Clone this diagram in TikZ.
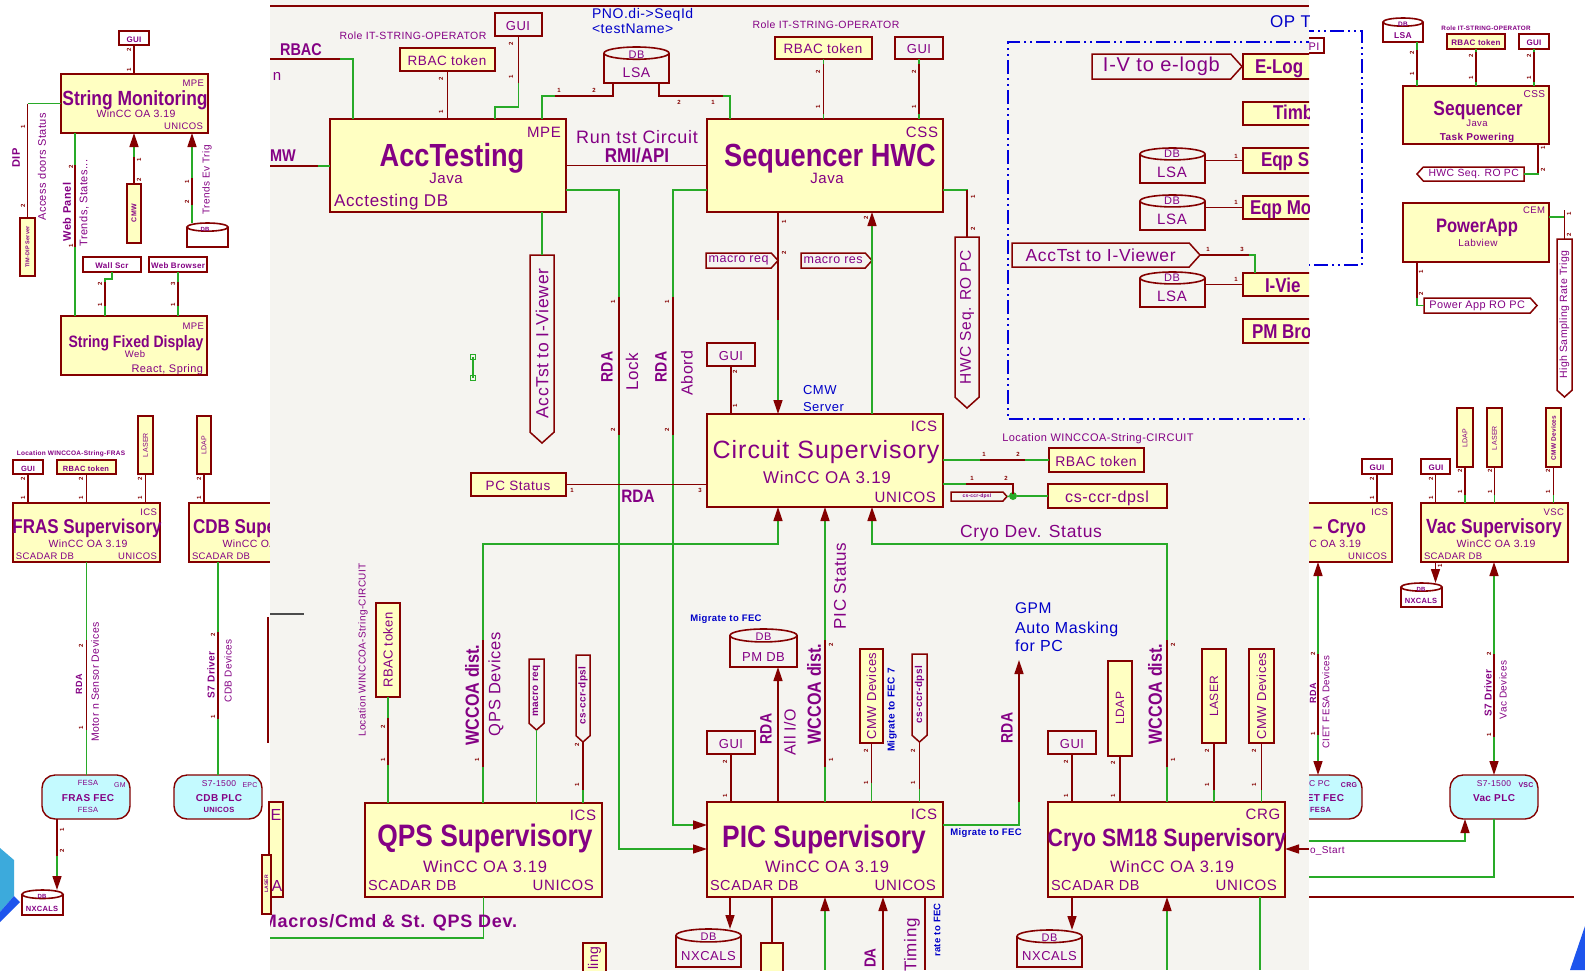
\documentclass[tikz,border=0pt]{standalone}
\usepackage{fontspec}
\setmainfont{Liberation Sans}[LetterSpace=4]
\newfontfamily\tfont{Liberation Sans}[FakeStretch=0.85]
\usetikzlibrary{arrows.meta}
\definecolor{kred}{RGB}{132,0,0}
\definecolor{kyel}{RGB}{255,255,194}
\definecolor{kgrn}{RGB}{40,170,40}
\definecolor{kpur}{RGB}{132,0,132}
\definecolor{kblu}{RGB}{0,0,200}
\definecolor{kbg}{RGB}{245,244,240}
\definecolor{kcyan}{RGB}{196,250,255}
\definecolor{kdash}{RGB}{0,0,220}
\definecolor{kswo}{RGB}{60,170,220}
\newcommand\kfs[1]{\fontsize{#1}{#1}\selectfont}
\newcounter{kt}
\newcommand\KT[5]{\stepcounter{kt}\node[ktx,#5] (t\arabic{kt}) at (#1,#2) {\kfs{#4}#3};}
\newcommand\KP[4]{\stepcounter{kt}\node[kpin,rotate=#4] (t\arabic{kt}) at (#1,#2) {#3};}
\newcommand\KB[6]{\node[#6,minimum width=#4pt,minimum height=#5pt,anchor=north west] (#1) at (#2,#3) {};}
\newcommand\KF[3]{\node[kfec,minimum width=88pt,minimum height=44pt,anchor=north west] (#1) at (#2,#3) {};}
\newcommand\KDB[5]{%
 \node[inner sep=0pt,outer sep=0pt,minimum width=#4pt,minimum height=#5pt,anchor=north west] (#1) at (#2,#3) {};
 \draw[kred,line width=1.6pt] (#1.north west) ++(0,{0.17*#5}) -- (#1.south west) -- (#1.south east) -- ++(0,{-0.83*#5});
 \draw[kred,line width=1.6pt] (#1.north) ++(0,{0.17*#5}) ellipse [x radius={#4*0.5pt}, y radius={#5*0.17pt}];}
\newcommand\KtagR[8]{%
 \draw[ktag] (#2,#3) -- ({#4-0.45*(#5-#3)},#3) -- (#4,{(#3+#5)/2}) -- ({#4-0.45*(#5-#3)},#5) -- (#2,#5) -- cycle;
 \coordinate (#1-p) at (#4,{(#3+#5)/2});
 \coordinate (#1-b) at (#2,{(#3+#5)/2});
 \node[ktx,#8] (#1) at ({(#2+#4-0.45*(#5-#3))/2},{(#3+#5)/2}) {\kfs{#7}#6};}
\newcommand\KtagL[8]{%
 \draw[ktag] (#4,#3) -- ({#2+0.45*(#5-#3)},#3) -- (#2,{(#3+#5)/2}) -- ({#2+0.45*(#5-#3)},#5) -- (#4,#5) -- cycle;
 \coordinate (#1-p) at (#2,{(#3+#5)/2});
 \coordinate (#1-b) at (#4,{(#3+#5)/2});
 \node[ktx,#8] (#1) at ({(#2+0.45*(#5-#3)+#4)/2},{(#3+#5)/2}) {\kfs{#7}#6};}
\newcommand\KtagD[8]{%
 \draw[ktag] (#2,#3) -- (#4,#3) -- (#4,{#5-0.45*(#4-#2)}) -- ({(#2+#4)/2},#5) -- (#2,{#5-0.45*(#4-#2)}) -- cycle;
 \coordinate (#1-t) at ({(#2+#4)/2},#3);
 \coordinate (#1-p) at ({(#2+#4)/2},#5);
 \node[ktx,rotate=90,#8] (#1) at ({(#2+#4)/2},{(#3+#5-0.45*(#4-#2))/2}) {\kfs{#7}#6};}
\tikzset{
 ktx/.style={text=kpur, inner sep=0pt, outer sep=0pt},
 kbold/.style={font=\bfseries},
 ktitle/.style={font=\tfont\bfseries},
 kblue/.style={text=kblu},
 kbx/.style={draw=kred, line width=1.6pt, fill=kyel, inner sep=0pt, outer sep=0pt},
 kwx/.style={draw=kred, line width=1.6pt, inner sep=0pt, outer sep=0pt},
 kfec/.style={draw=kred, line width=1.4pt, fill=kcyan, rounded corners=13pt, inner sep=0pt, outer sep=0pt},
 gw/.style={draw=kgrn, line width=1.4pt},
 rw/.style={draw=kred, line width=1.4pt},
 ktag/.style={draw=kred, line width=1.5pt},
 kpin/.style={text=kred, inner sep=0pt, font=\bfseries\kfs{6}},
 kar/.style={-{Triangle[length=14pt,width=9pt,color=kred]}},
 kra/.style={{Triangle[length=14pt,width=9pt,color=kred]}-},
 krar/.style={{Triangle[length=14pt,width=9pt,color=kred]}-{Triangle[length=14pt,width=9pt,color=kred]}},
 kdd/.style={draw=kdash, line width=1.4pt, dash pattern=on 14pt off 4pt on 2pt off 4pt on 2pt off 4pt},
}
\begin{document}
\begin{tikzpicture}[x=1pt,y=-1pt]
\useasboundingbox (0,0) rectangle (1585,970);
\fill[white] (0,0) rectangle (1585,970);

%================ LEFT AREA ================
\KB{smgui}{119}{31}{30}{14}{kwx}
\KT{134}{42}{GUI}{8}{kbold,anchor=base}
\KB{sm}{61}{74}{147}{59}{kbx}
\KT{204}{86}{MPE}{9.5}{anchor=base east}
\KT{135}{105}{String Monitoring}{20.5}{ktitle,anchor=base}
\KT{136}{117}{WinCC OA 3.19}{10.5}{anchor=base}
\KT{203}{129}{UNICOS}{9.5}{anchor=base east}
\draw[rw] (smgui.south) -- (smgui.south |- sm.north);
\KP{129}{50}{2}{90}\KP{129}{70}{1}{90}

\KB{tim}{20}{218}{15}{58}{kbx}
\KT{27.5}{247}{TIM-DIP Server}{5.5}{kbold,rotate=90}
\draw[gw] (sm.west) -- (sm.west -| tim.north);
\draw[rw] (sm.west -| tim.north) -- (tim.north);
\KP{23}{127}{1}{90}\KP{23}{206}{2}{90}
\KT{16}{158}{DIP}{11}{kbold,rotate=90}
\KT{42}{167}{Access doors Status}{11}{rotate=90}

\KB{sfd}{61}{316}{146}{59}{kbx}
\draw[gw] ([xshift=14pt]sm.south west) -- ([xshift=14pt]sm.south west |- sfd.north);
\draw[rw] ([xshift=14pt]sm.south west) ++(0,32) -- ++(0,82);
\KP{71}{167}{2}{90}\KP{71}{246}{1}{90}
\KT{67}{212}{Web Panel}{11}{kbold,rotate=90}
\KT{84}{203}{Trends, States...}{11}{rotate=90}

\KB{cmw}{127}{184}{14}{59}{kbx}
\KT{134}{213}{CMW}{7}{kbold,rotate=90}
\draw[gw,kar] (cmw.north) -- (cmw.north |- sm.south);
\draw[rw] (cmw.north) -- ++(0,-27);
\KP{139}{160}{1}{90}\KP{139}{180}{2}{90}

\KDB{smdb}{187}{223}{41}{24}
\KT{205}{231}{DB}{6}{kbold,anchor=base}
\draw[gw,kar] ([xshift=5pt]smdb.north west) -- ([xshift=5pt]smdb.north west |- sm.south);
\draw[rw] ([xshift=5pt]smdb.north west) ++(0,-18) -- ++(0,-27);
\KP{187}{182}{1}{90}\KP{187}{202}{2}{90}
\KT{207}{180}{Trends Ev Trig}{10}{rotate=90}

\KB{wall}{83}{257}{58}{15}{kwx}
\KT{112}{268}{Wall Scr}{8}{kbold,anchor=base}
\KB{webb}{149}{257}{58}{15}{kwx}
\KT{178}{268}{Web Browser}{8}{kbold,anchor=base}
\draw[gw] (wall.south) -- ++(0,7) -| ([xshift=44pt]sfd.north west);
\draw[rw] ([xshift=44pt]sfd.north west) ++(0,-34) -- ++(0,24);
\draw[gw] (webb.south) -- (webb.south |- sfd.north);
\draw[rw] (webb.south) ++(0,10) -- ++(0,24);
\KP{100}{284}{2}{90}\KP{100}{305}{1}{90}\KP{173}{284}{3}{90}\KP{173}{305}{1}{90}

\KT{204}{329}{MPE}{9.5}{anchor=base east}
\KT{136}{347}{String Fixed Display}{16.5}{ktitle,anchor=base}
\KT{135}{357}{Web}{9.5}{anchor=base}
\KT{203}{372}{React, Spring}{11}{anchor=base east}

\KT{71}{455}{Location WINCCOA-String-FRAS}{6.5}{kbold,anchor=base}
\KB{fgui}{13}{460}{30}{14}{kwx}
\KT{28}{471}{GUI}{7.5}{kbold,anchor=base}
\KB{frbac}{57}{460}{59}{14}{kbx}
\KT{86}{471}{RBAC token}{7.5}{kbold,anchor=base}
\KB{flaser}{138}{416}{15}{58}{kbx}
\KT{145.5}{445}{LASER}{7}{rotate=90}
\KB{cldap}{197}{416}{14}{58}{kbx}
\KT{204}{445}{LDAP}{7}{rotate=90}
\KB{fras}{13}{503}{147}{59}{kbx}
\KT{157}{515}{ICS}{9.5}{anchor=base east}
\KT{87}{533}{FRAS Supervisory}{20}{ktitle,anchor=base}
\KT{88}{547}{WinCC OA 3.19}{10.5}{anchor=base}
\KT{16}{559}{SCADAR DB}{9.5}{anchor=base west}
\KT{157}{559}{UNICOS}{9.5}{anchor=base east}
\draw[rw] (fgui.south) -- (fgui.south |- fras.north);
\draw[rw] (frbac.south) -- (frbac.south |- fras.north);
\draw[rw] (flaser.south) -- (flaser.south |- fras.north);
\KP{23}{479}{2}{90}\KP{23}{498}{1}{90}\KP{81}{479}{2}{90}\KP{81}{498}{1}{90}\KP{140}{479}{2}{90}\KP{140}{498}{1}{90}
\KB{cdb}{189}{503}{147}{59}{kbx}
\KT{193}{533}{CDB Supervisory}{20}{ktitle,anchor=base west}
\KT{262}{547}{WinCC OA 3.19}{10.5}{anchor=base}
\KT{192}{559}{SCADAR DB}{9.5}{anchor=base west}
\draw[rw] (cldap.south) -- (cldap.south |- cdb.north);
\KP{199}{479}{2}{90}\KP{199}{498}{1}{90}

\KF{ffec}{42}{775}
\draw[gw] (fras.south) -- (fras.south |- ffec.north);
\draw[rw] (fras.south) ++(0,78) -- ++(0,90);
\KP{81}{646}{2}{90}\KP{81}{728}{1}{90}
\KT{79}{684}{RDA}{9}{kbold,rotate=90}
\KT{95}{682}{Motor n Sensor Devices}{10.5}{rotate=90}
\KT{88}{785}{FESA}{7.5}{anchor=base}
\KT{120}{787}{GM}{7}{anchor=base}
\KT{88}{801}{FRAS FEC}{10}{kbold,anchor=base}
\KT{88}{812}{FESA}{7.5}{anchor=base}
\KF{cplc}{174}{775}
\draw[gw] (cdb.south -| cplc.north) -- (cplc.north);
\draw[rw] (cplc.north) ++(0,-143) -- ++(0,87);
\KP{213}{635}{2}{90}\KP{213}{717}{1}{90}
\KT{211}{675}{S7 Driver}{10}{kbold,rotate=90}
\KT{228}{671}{CDB Devices}{10}{rotate=90}
\KT{219}{786}{S7-1500}{8.5}{anchor=base}
\KT{250}{787}{EPC}{7}{anchor=base}
\KT{219}{801}{CDB PLC}{10}{kbold,anchor=base}
\KT{219}{812}{UNICOS}{7.5}{kbold,anchor=base}
\KDB{fnx}{22}{890}{41}{25}
\KT{42}{898}{DB}{6}{kbold,anchor=base}
\KT{42}{911}{NXCALS}{7.5}{kbold,anchor=base}
\draw[gw,kar] ([xshift=15pt]ffec.south west) -- ([xshift=15pt]ffec.south west |- fnx.north);
\draw[rw] ([xshift=15pt]ffec.south west) -- ++(0,37);
\KP{62}{830}{1}{90}\KP{62}{851}{2}{90}
\fill[kswo] (0,848) -- (14,860) -- (14,896) -- (0,912) -- cycle;
\fill[kswo!50!blue] (0,912) -- (14,896) -- (20,902) -- (0,922) -- cycle;

%================ RIGHT AREA ================
\draw[kdd] (1300,31) -- (1362,31) -- (1362,265) -- (1300,265);
\KB{pibox}{1290}{38}{34}{15}{kwx}
\KT{1314}{50}{PI}{11}{anchor=base}
\KDB{rlsa}{1383}{18}{40}{24}
\KT{1403}{26}{DB}{6.5}{kbold,anchor=base}
\KT{1403}{38}{LSA}{8.5}{kbold,anchor=base}
\KT{1486}{30}{Role IT-STRING-OPERATOR}{6.3}{kbold,anchor=base}
\KB{rrbac}{1447}{34}{58}{15}{kbx}
\KT{1476}{45}{RBAC token}{8}{kbold,anchor=base}
\KB{rgui}{1519}{34}{30}{15}{kwx}
\KT{1534}{45}{GUI}{8}{kbold,anchor=base}
\KB{rseq}{1403}{86}{146}{58}{kbx}
\KT{1545}{97}{CSS}{10}{anchor=base east}
\KT{1478}{115}{Sequencer}{20.5}{ktitle,anchor=base}
\KT{1477}{126}{Java}{9.5}{anchor=base}
\KT{1477}{140}{Task Powering}{10}{kbold,anchor=base}
\draw[gw] ([xshift=34pt]rlsa.south west) -- ([xshift=34pt]rlsa.south west |- rseq.north);
\draw[rw] ([xshift=34pt]rlsa.south west) ++(0,8) -- ++(0,30);
\draw[gw] (rrbac.south) -- (rrbac.south |- rseq.north);
\draw[rw] (rrbac.south) ++(0,3) -- ++(0,30);
\draw[gw] (rgui.south) -- (rgui.south |- rseq.north);
\draw[rw] (rgui.south) ++(0,3) -- ++(0,30);
\KP{1412}{53}{2}{90}\KP{1412}{74}{1}{90}\KP{1471}{56}{2}{90}\KP{1471}{78}{1}{90}\KP{1529}{56}{2}{90}\KP{1529}{78}{1}{90}
\KtagL{hwcr}{1417}{167}{1524}{181}{HWC Seq. RO PC}{10.4}{}
\draw[gw] ([xshift=135pt]rseq.south west) |- (hwcr-b);
\draw[rw] ([xshift=135pt]rseq.south west) -- ++(0,29);
\KP{1543}{148}{1}{90}\KP{1543}{170}{2}{90}
\KB{papp}{1403}{203}{146}{59}{kbx}
\KT{1545}{213}{CEM}{9.5}{anchor=base east}
\KT{1477}{232}{PowerApp}{19.5}{ktitle,anchor=base}
\KT{1478}{246}{Labview}{10}{anchor=base}
\KtagD{hsr}{1557}{239}{1572}{397}{High Sampling Rate Trigg}{10.5}{}
\draw[gw] ([yshift=-14pt]papp.north east) -| (hsr-t);
\draw[rw] (hsr-t) -- ++(0,-29);
\KP{1569}{214}{1}{90}\KP{1569}{235}{2}{90}
\KtagR{pwr}{1424}{298}{1537}{313}{Power App RO PC}{10.9}{}
\draw[gw] ([xshift=14pt]papp.south west) |- (pwr-b);
\draw[rw] ([xshift=14pt]papp.south west) -- ++(0,36);
\KP{1421}{272}{1}{90}\KP{1421}{294}{2}{90}

\KB{cgui}{1362}{459}{30}{15}{kwx}
\KT{1377}{470}{GUI}{8}{kbold,anchor=base}
\KB{vgui}{1421}{459}{29}{15}{kwx}
\KT{1436}{470}{GUI}{8}{kbold,anchor=base}
\KB{vldap}{1457}{408}{16}{59}{kbx}
\KT{1465}{438}{LDAP}{7}{rotate=90}
\KB{vlaser}{1487}{408}{15}{59}{kbx}
\KT{1494.5}{438}{LASER}{7}{rotate=90}
\KB{vcmw}{1546}{408}{15}{59}{kbx}
\KT{1553.5}{438}{CMW Devices}{6.5}{kbold,rotate=90}
\KB{cryo}{1245}{503}{147}{59}{kbx}
\KT{1388}{515}{ICS}{9.5}{anchor=base east}
\KT{1366}{533}{– Cryo}{20}{ktitle,anchor=base east}
\KT{1361}{547}{WinCC OA 3.19}{10.5}{anchor=base east}
\KT{1387}{559}{UNICOS}{9.5}{anchor=base east}
\KB{vac}{1421}{503}{147}{59}{kbx}
\KT{1564}{515}{VSC}{9.5}{anchor=base east}
\KT{1494}{533}{Vac Supervisory}{20.5}{ktitle,anchor=base}
\KT{1496}{547}{WinCC OA 3.19}{10.5}{anchor=base}
\KT{1424}{559}{SCADAR DB}{9.5}{anchor=base west}
\draw[rw] (cgui.south) -- (cgui.south |- cryo.north);
\draw[rw] (vgui.south) -- (vgui.south |- vac.north);
\draw[gw] (vldap.south) -- (vldap.south |- vac.north);
\draw[rw] (vldap.south) -- ++(0,28);
\draw[gw] (vlaser.south) -- (vlaser.south |- vac.north);
\draw[rw] (vlaser.south) -- ++(0,28);
\draw[gw] (vcmw.south) -- (vcmw.south |- vac.north);
\draw[rw] (vcmw.south) -- ++(0,28);
\KP{1372}{479}{2}{90}\KP{1372}{498}{1}{90}\KP{1431}{479}{2}{90}\KP{1431}{498}{1}{90}
\KP{1460}{471}{2}{90}\KP{1460}{492}{1}{90}\KP{1490}{471}{2}{90}\KP{1490}{492}{1}{90}\KP{1548}{471}{2}{90}\KP{1548}{492}{1}{90}
\KDB{vnx}{1401}{583}{41}{24}
\KT{1421}{591}{DB}{6}{kbold,anchor=base}
\KT{1421}{603}{NXCALS}{7.5}{kbold,anchor=base}
\draw[rw,kar] (vgui.south |- vac.south) -- (vgui.south |- vnx.north);
\KP{1440}{566}{1}{90}

\KF{cfec}{1274}{775}
\draw[gw,krar] (cryo.south -| cfec.north) -- (cfec.north);
\draw[rw] (cfec.north) ++(0,-121) -- ++(0,81);
\KP{1313}{654}{2}{90}\KP{1313}{734}{1}{90}
\KT{1313}{693}{RDA}{9}{kbold,rotate=90}
\KT{1326}{702}{CIET FESA Devices}{9.7}{rotate=90}
\KT{1330}{786}{C PC}{8.5}{anchor=base east}
\KT{1349}{787}{CRG}{7}{kbold,anchor=base}
\KT{1344}{801}{CIET FEC}{10}{kbold,anchor=base east}
\KT{1331}{812}{FESA}{7.5}{kbold,anchor=base east}
\KF{vplc}{1450}{775}
\draw[gw,krar] (vac.south -| vplc.north) -- (vplc.north);
\draw[rw] (vplc.north) ++(0,-121) -- ++(0,83);
\KP{1489}{654}{2}{90}\KP{1489}{735}{1}{90}
\KT{1488}{693}{S7 Driver}{10}{kbold,rotate=90}
\KT{1503}{690}{Vac Devices}{10}{rotate=90}
\KT{1494}{786}{S7-1500}{8.5}{anchor=base}
\KT{1526}{787}{VSC}{7}{kbold,anchor=base}
\KT{1494}{801}{Vac PLC}{10}{kbold,anchor=base}
\coordinate (rg1) at (1300,841);
\coordinate (rg2) at (1300,877);
\draw[gw,kar] (rg1) -| ([xshift=-29pt]vplc.south);
\draw[gw] (rg2) -| (vplc.south);
\coordinate (rr1) at (1300,897);
\coordinate (rr2) at (1574,897);
\draw[rw] (rr1) -- (rr2);
\KT{1310}{853}{o\_Start}{10}{anchor=base west}
\fill[kswo!50!blue] (1585,926) -- (1585,970) -- (1570,970) -- cycle;

%================ CENTRAL PANEL ================
\begin{scope}
\clip (270,0) rectangle (1309,970);
\fill[kbg] (270,0) rectangle (1309,970);
\draw[kred,line width=1.6pt] (270,6) -- (1309,6);

\KB{acc}{330}{119}{236}{93}{kbx}
\KB{seq}{707}{119}{236}{93}{kbx}
\KB{circ}{707}{414}{236}{93}{kbx}
\KB{qps}{365}{803}{237}{94}{kbx}
\KB{pic}{707}{802}{236}{95}{kbx}
\KB{cs18}{1048}{802}{237}{95}{kbx}

\KT{301}{55}{RBAC}{17}{ktitle,anchor=base}
\KT{277}{80}{n}{15}{anchor=base}
\KT{283}{161}{MW}{17}{ktitle,anchor=base}

\KT{544}{137}{MPE}{15}{anchor=base}
\KT{452}{166}{AccTesting}{32}{ktitle,anchor=base}
\KT{446}{183}{Java}{15}{anchor=base}
\KT{334}{206}{Acctesting DB}{17}{anchor=base west}
\coordinate (lrb) at (270,59);
\draw[gw] (lrb) -| ([xshift=23pt]acc.north west);
\draw[rw] (lrb) -- ++(70,0);
\coordinate (lmw) at (270,166);
\draw[gw] (lmw) -- (lmw -| acc.west);
\draw[rw] (lmw) -- ++(48,0);

\KT{413}{39}{Role IT-STRING-OPERATOR}{10.5}{anchor=base}
\KB{arbac}{400}{48}{95}{23}{kbx}
\KT{447}{65}{RBAC token}{13.5}{anchor=base}
\KB{agui}{495}{13}{47}{23}{kwx}
\KT{518}{30}{GUI}{13}{anchor=base}
\draw[rw] (arbac.south) -- (arbac.south |- acc.north);
\draw[gw] (agui.south) -- ++(0,71) -| ([xshift=165pt]acc.north west);
\draw[rw] (agui.south) -- ++(0,47);
\KP{441}{79}{2}{90}\KP{441}{112}{1}{90}\KP{511}{44}{2}{90}\KP{511}{77}{1}{90}

\KDB{alsa}{604}{47}{65}{36}
\KT{636.5}{58}{DB}{11}{anchor=base}
\KT{636.5}{77}{LSA}{14}{anchor=base}
\draw[gw] ([xshift=9pt]alsa.south west) -- ++(0,13) -| ([xshift=212pt]acc.north west);
\draw[rw] ([xshift=9pt]alsa.south west) -- ++(0,13) -- ++(-58,0);
\draw[gw] ([xshift=-10pt]alsa.south east) -- ++(0,13) -| ([xshift=23pt]seq.north west);
\draw[rw] ([xshift=-10pt]alsa.south east) -- ++(0,13) -- ++(64,0);
\KP{559}{90}{1}{0}\KP{594}{90}{2}{0}\KP{679}{102}{2}{0}\KP{713}{102}{1}{0}
\KT{592}{18.5}{PNO.di->SeqId}{14}{kblue,anchor=base west}
\KT{592}{33}{<testName>}{14}{kblue,anchor=base west}
\KT{637}{143}{Run tst Circuit}{18}{anchor=base}
\KT{637}{162}{RMI/API}{20}{ktitle,anchor=base}

\KT{922}{137}{CSS}{15}{anchor=base}
\KT{830}{166}{Sequencer HWC}{32}{ktitle,anchor=base}
\KT{827}{183}{Java}{15}{anchor=base}
\draw[rw] (acc.east) -- (seq.west);
\KT{826}{28}{Role IT-STRING-OPERATOR}{10.5}{anchor=base}
\KB{srbac}{775}{37}{97}{22}{kbx}
\KT{823}{53}{RBAC token}{13.5}{anchor=base}
\KB{sgui}{895}{37}{48}{22}{kwx}
\KT{919}{53}{GUI}{13}{anchor=base}
\draw[gw] (srbac.south) -- (srbac.south |- seq.north);
\draw[rw] (srbac.south) ++(0,5) -- ++(0,50);
\draw[gw] (sgui.south) -- (sgui.south |- seq.north);
\draw[rw] (sgui.south) ++(0,5) -- ++(0,50);
\KP{818}{72}{2}{90}\KP{818}{107}{1}{90}\KP{914}{72}{2}{90}\KP{914}{107}{1}{90}

\draw[gw,kar] ([yshift=-71pt]acc.north east) -- ++(53,0) |- ([yshift=-47pt]pic.north west);
\draw[rw] ([yshift=-71pt]acc.north east) ++(53,107) -- ++(0,138);
\draw[gw,kar] ([yshift=-71pt]seq.north west) -- ++(-34,0) |- ([yshift=-23pt]pic.north west);
\draw[rw] ([yshift=-71pt]seq.north west) ++(-34,107) -- ++(0,138);
\KP{613}{302}{1}{90}\KP{613}{430}{2}{90}\KP{667}{302}{1}{90}\KP{667}{430}{2}{90}
\KT{607}{367}{RDA}{16.5}{ktitle,rotate=90}
\KT{632}{372}{Lock}{17}{rotate=90}
\KT{661}{367}{RDA}{16.5}{ktitle,rotate=90}
\KT{687}{373}{Abord}{16}{rotate=90}

\KtagD{atv}{530}{255}{554}{443}{AccTst to I-Viewer}{17.5}{}
\draw[gw] ([xshift=212pt]acc.south west) -- (atv-t);
\draw[kgrn,line width=1.2pt] (473,357) -- (473,378);
\draw[kgrn,line width=1pt] (470.5,354.5) rectangle (475.5,359.5);
\draw[kgrn,line width=1pt] (470.5,375.5) rectangle (475.5,380.5);

\KT{924}{431}{ICS}{15}{anchor=base}
\KT{826}{458}{Circuit Supervisory}{25}{anchor=base}
\KT{827}{483}{WinCC OA 3.19}{17}{anchor=base}
\KT{936}{502}{UNICOS}{15}{anchor=base east}
\KtagR{mreq}{706}{253}{778}{268}{macro req}{12.5}{}
\KtagR{mres}{801}{253}{872}{268}{macro res}{12.5}{}
\draw[gw,kar] ([xshift=71pt]seq.south west) -- ([xshift=71pt]circ.north west);
\draw[rw] ([xshift=71pt]seq.south west) -- ++(0,108);
\draw[gw,kra] ([xshift=165pt]seq.south west) -- ([xshift=165pt]circ.north west);
\KP{784}{222}{1}{90}\KP{784}{253}{2}{90}\KP{866}{218}{2}{90}
\KtagD{hwc}{955}{237}{979}{408}{HWC Seq. RO PC}{15.5}{}
\draw[gw] ([yshift=-71pt]seq.north east) -| (hwc-t);
\draw[rw] (hwc-t) -- ++(0,-47);
\KP{973}{197}{1}{90}\KP{973}{229}{2}{90}

\KB{cgui2}{707}{343}{48}{23}{kwx}
\KT{731}{360}{GUI}{13}{anchor=base}
\draw[rw] (cgui2.south) -- (cgui2.south |- circ.north);
\KP{735}{372}{2}{90}\KP{735}{406}{1}{90}
\KT{803}{394}{CMW}{13}{kblue,anchor=base west}
\KT{803}{411}{Server}{13}{kblue,anchor=base west}
\KB{pcs}{471}{473}{95}{23}{kbx}
\KT{518}{490}{PC Status}{13.5}{anchor=base}
\draw[rw] (pcs.east) -- (pcs.east -| circ.west);
\KP{572}{490}{1}{0}\KP{700}{490}{3}{0}
\KT{638}{502}{RDA}{18}{ktitle,anchor=base}

\KT{1098}{441}{Location WINCCOA-String-CIRCUIT}{11}{anchor=base}
\KB{crbac}{1049}{448}{95}{24}{kbx}
\KT{1096}{466}{RBAC token}{14}{anchor=base}
\draw[gw] (circ.east |- crbac.west) -- (crbac.west);
\draw[rw] (circ.east |- crbac.west) ++(37,0) -- ++(45,0);
\KP{984}{454}{1}{0}\KP{1018}{454}{2}{0}
\KB{ccr}{1048}{484}{119}{24}{kbx}
\KT{1107}{502}{cs-ccr-dpsl}{16}{anchor=base}
\node[circle,fill=kgrn,inner sep=0pt,minimum size=8pt] (jd) at (1013,496) {};
\draw[gw] ([yshift=-70pt]circ.north east) -- ++(70,0) -- (jd) -- (ccr.west);
\draw[rw] ([yshift=-70pt]circ.north east) ++(23,0) -- ++(47,0) -- ++(0,10);
\KP{972}{478}{1}{0}\KP{1006}{478}{2}{0}
\KtagR{tt}{951}{492}{1007}{501}{cs-ccr-dpsl}{5}{kbold}
\draw[gw] (tt-p) -- (jd);

\draw[gw,kra] ([xshift=71pt]circ.south west) -- ++(0,37) -| ([xshift=118pt]qps.north west);
\draw[rw] ([xshift=118pt]qps.north west) ++(0,-163) -- ++(0,127);
\draw[gw,kra] ([xshift=118pt]circ.south west) -- ([xshift=118pt]pic.north west);
\draw[rw] ([xshift=118pt]pic.north west) ++(0,-162) -- ++(0,127);
\draw[gw,kra] ([xshift=165pt]circ.south west) -- ++(0,37) -| ([xshift=119pt]cs18.north west);
\draw[rw] ([xshift=119pt]cs18.north west) ++(0,-162) -- ++(0,127);
\KP{477}{760}{1}{90}\KP{831}{645}{2}{90}\KP{831}{760}{1}{90}\KP{1173}{645}{2}{90}\KP{1173}{760}{1}{90}
\KT{840}{586}{PIC Status}{17}{rotate=90}
\KT{1031}{537}{Cryo Dev. Status}{17.5}{anchor=base}

% QPS
\KT{583}{820}{ICS}{15}{anchor=base}
\KT{485}{846}{QPS Supervisory}{31}{ktitle,anchor=base}
\KT{485}{872}{WinCC OA 3.19}{16.5}{anchor=base}
\KT{368}{890}{SCADAR DB}{14.5}{anchor=base west}
\KT{594}{890}{UNICOS}{15}{anchor=base east}
\KB{lrbac}{376}{603}{24}{94}{kbx}
\KT{388}{650}{RBAC token}{13}{rotate=90}
\KT{363}{650}{Location WINCCOA-String-CIRCUIT}{10}{rotate=90}
\draw[gw] (lrbac.south) -- (lrbac.south |- qps.north);
\draw[rw] (lrbac.south) ++(0,21) -- ++(0,47);
\KP{383}{727}{2}{90}\KP{383}{760}{1}{90}
\KT{472}{695}{WCCOA dist.}{19}{ktitle,rotate=90}
\KT{496}{684}{QPS Devices}{16.5}{rotate=90}
\KtagD{qmr}{529}{659}{544}{730}{macro req}{10}{kbold}
\draw[gw] (qmr-p) -- (qmr-p |- qps.north);
\KtagD{qccr}{576}{655}{590}{742}{cs-ccr-dpsl}{10}{kbold}
\draw[gw] (qccr-p) -- (qccr-p |- qps.north);
\draw[rw] (qccr-p) -- ++(0,48);
\KP{577}{745}{2}{90}\KP{577}{785}{1}{90}
\coordinate (ql) at (270,938);
\draw[gw] (qps.south) |- (ql);
\KT{517}{927}{Macros/Cmd \& St. QPS Dev.}{18}{kbold,anchor=base east}
\draw[gray!60!black,line width=1.2pt] (270,614) -- (304,614);

% PIC
\KT{924}{819}{ICS}{15}{anchor=base}
\KT{824}{847}{PIC Supervisory}{31}{ktitle,anchor=base}
\KT{827}{872}{WinCC OA 3.19}{16.5}{anchor=base}
\KT{710}{890}{SCADAR DB}{14.5}{anchor=base west}
\KT{936}{890}{UNICOS}{15}{anchor=base east}
\KB{pgui}{707}{731}{48}{23}{kwx}
\KT{731}{748}{GUI}{13}{anchor=base}
\draw[rw] (pgui.south) -- (pgui.south |- pic.north);
\KP{725}{762}{2}{90}\KP{725}{796}{1}{90}
\KDB{pmdb}{730}{629}{67}{38}
\KT{763.5}{640}{DB}{11}{anchor=base}
\KT{763.5}{661}{PM DB}{13}{anchor=base}
\draw[rw,kar] ([xshift=71pt]pic.north west) -- ([xshift=71pt]pic.north west |- pmdb.south);
\KT{726}{621}{Migrate to FEC}{9.5}{kblue,kbold,anchor=base}
\KT{766}{729}{RDA}{16.5}{ktitle,rotate=90}
\KT{790}{732}{All I/O}{16}{rotate=90}
\KT{814}{694}{WCCOA dist.}{19}{ktitle,rotate=90}
\KB{pcmw}{860}{649}{23}{94}{kbx}
\KT{871.5}{696}{CMW Devices}{13}{rotate=90}
\draw[gw] (pcmw.south) -- (pcmw.south |- pic.north);
\draw[rw] (pcmw.south) -- ++(0,40);
\KP{866}{751}{2}{90}\KP{866}{783}{1}{90}
\KT{892}{710}{Migrate to FEC 7}{10}{kblue,kbold,rotate=90}
\KtagD{pccr}{912}{654}{927}{742}{cs-ccr-dpsl}{10}{kbold}
\draw[gw] (pccr-p) -- (pccr-p |- pic.north);
\draw[rw] (pccr-p) -- ++(0,47);
\KP{913}{751}{2}{90}\KP{913}{783}{1}{90}
\coordinate (gpmtip) at (1019,660);
\draw[gw,kar] ([yshift=-23pt]pic.north east) -| (gpmtip);
\draw[rw] (gpmtip) ++(0,12) -- ++(0,130);
\KT{1007}{728}{RDA}{16.5}{ktitle,rotate=90}
\KT{986}{835}{Migrate to FEC}{9.5}{kblue,kbold,anchor=base}
\KT{1015}{613}{GPM}{15.5}{kblue,anchor=base west}
\KT{1015}{633}{Auto Masking}{16}{kblue,anchor=base west}
\KT{1015}{651}{for PC}{16}{kblue,anchor=base west}

% Cryo SM18
\KT{1263}{819}{CRG}{15}{anchor=base}
\KT{1167}{846}{Cryo SM18 Supervisory}{25}{ktitle,anchor=base}
\KT{1172}{872}{WinCC OA 3.19}{16.5}{anchor=base}
\KT{1051}{890}{SCADAR DB}{14.5}{anchor=base west}
\KT{1277}{890}{UNICOS}{15}{anchor=base east}
\KB{cgui3}{1048}{731}{48}{23}{kwx}
\KT{1072}{748}{GUI}{13}{anchor=base}
\draw[rw] (cgui3.south) -- (cgui3.south |- cs18.north);
\KP{1066}{762}{2}{90}\KP{1066}{796}{1}{90}
\KB{cldap2}{1108}{661}{24}{95}{kbx}
\KT{1120}{708}{LDAP}{12}{rotate=90}
\draw[rw] (cldap2.south) -- (cldap2.south |- cs18.north);
\KP{1113}{763}{2}{90}\KP{1113}{796}{1}{90}
\KT{1155}{694}{WCCOA dist.}{19}{ktitle,rotate=90}
\KB{claser}{1202}{649}{24}{94}{kbx}
\KT{1214}{696}{LASER}{12}{rotate=90}
\draw[gw] (claser.south) -- (claser.south |- cs18.north);
\draw[rw] (claser.south) -- ++(0,47);
\KP{1207}{751}{2}{90}\KP{1207}{785}{1}{90}
\KB{ccmw}{1249}{649}{25}{94}{kbx}
\KT{1261.5}{696}{CMW Devices}{13}{rotate=90}
\draw[gw] (ccmw.south) -- (ccmw.south |- cs18.north);
\draw[rw] (ccmw.south) -- ++(0,47);
\KP{1254}{751}{2}{90}\KP{1254}{785}{1}{90}
\coordinate (cre) at (1309,849);
\draw[rw,kar] (cre) -- (cre -| cs18.east);

% below
\KDB{pnx}{676}{929}{65}{38}
\KT{708.5}{940}{DB}{11}{anchor=base}
\KT{708.5}{960}{NXCALS}{13}{anchor=base}
\draw[rw,kar] ([xshift=23pt]pic.south west) -- ([xshift=23pt]pic.south west |- pnx.north);
\KB{psb}{761}{943}{22}{40}{kbx}
\draw[rw] (psb.north |- pic.south) -- (psb.north);
\coordinate (pb1) at (825,970);
\coordinate (pb2) at (883,970);
\coordinate (pb3) at (925,970);
\draw[gw,kra] ([xshift=118pt]pic.south west) -- (pb1);
\draw[rw,kra] ([xshift=176pt]pic.south west) -- (pb2);
\draw[rw] ([xshift=218pt]pic.south west) -- (pb3);
\KT{870}{958}{DA}{16}{ktitle,rotate=90}
\KT{912}{945}{Timing}{17}{rotate=90}
\KT{937}{930}{rate to FEC}{9.5}{kblue,kbold,rotate=90}
\KDB{cnx}{1017}{930}{65}{37}
\KT{1049.5}{941}{DB}{11}{anchor=base}
\KT{1049.5}{960}{NXCALS}{13}{anchor=base}
\draw[rw,kar] (cgui3.south |- cs18.south) -- (cgui3.south |- cnx.north);
\coordinate (cb1) at (1167,970);
\coordinate (cb2) at (1260,970);
\draw[gw,kra] ([xshift=119pt]cs18.south west) -- (cb1);
\draw[gw] ([xshift=212pt]cs18.south west) -- (cb2);
\KB{qling}{583}{943}{23}{40}{kbx}
\KT{594.5}{958}{ling}{14}{rotate=90}

% right inner block
\draw[kdd] (1320,42) -- (1008,42) -- (1008,419) -- (1320,419);
\KT{1270}{27}{OP T}{17}{kblue,anchor=base west}
\KtagR{ivl}{1092}{54}{1242}{79}{I-V to e-logb}{20}{}
\KB{elog}{1243}{54}{100}{25}{kbx}
\KT{1255}{73}{E-Log}{20}{ktitle,anchor=base west}
\KB{timb}{1243}{102}{100}{23}{kbx}
\KT{1273}{119}{Timb}{20}{ktitle,anchor=base west}
\KDB{l1}{1140}{148}{65}{35}
\KT{1172}{157}{DB}{11}{anchor=base}
\KT{1172}{177}{LSA}{15}{anchor=base}
\KB{eqps}{1243}{148}{100}{25}{kbx}
\KT{1261}{166}{Eqp S}{20}{ktitle,anchor=base west}
\draw[rw] (l1.east |- eqps.west) -- (eqps.west);
\KP{1236}{156}{1}{0}
\KDB{l2}{1140}{195}{65}{35}
\KT{1172}{204}{DB}{11}{anchor=base}
\KT{1172}{224}{LSA}{15}{anchor=base}
\KB{eqpm}{1243}{196}{100}{23}{kbx}
\KT{1250}{214}{Eqp Mo}{20}{ktitle,anchor=base west}
\draw[rw] (l2.east |- eqpm.west) -- (eqpm.west);
\KP{1236}{202}{1}{0}
\KtagR{acctv}{1012}{243}{1200}{267}{AccTst to I-Viewer}{17.5}{}
\KB{iv}{1243}{273}{100}{23}{kbx}
\KT{1265}{292}{I-Vie}{20}{ktitle,anchor=base west}
\draw[gw] (acctv-p) -| ([xshift=12pt]iv.north west);
\draw[rw] (acctv-p) -- ++(49,0);
\KP{1208}{249}{1}{0}\KP{1242}{249}{3}{0}
\KDB{l3}{1140}{272}{65}{35}
\KT{1172}{281}{DB}{11}{anchor=base}
\KT{1172}{301}{LSA}{15}{anchor=base}
\draw[rw] (l3.east |- iv.west) -- (iv.west);
\KP{1236}{279}{1}{0}
\KB{pmb}{1243}{319}{100}{24}{kbx}
\KT{1252}{338}{PM Bro}{20}{ktitle,anchor=base west}
\end{scope}

% panel edge fragments
\draw[kred,line width=1.4pt] (268,617) -- (268,743);
\KB{ebox}{269}{802}{14}{95}{kbx}
\KT{276}{820}{E}{16}{anchor=base}
\KT{277}{891}{A}{16}{anchor=base}
\KB{lasbox}{262}{855}{9}{59}{kbx}
\KT{266.5}{884}{LASER}{5}{kbold,rotate=90}
\end{tikzpicture}
\end{document}
